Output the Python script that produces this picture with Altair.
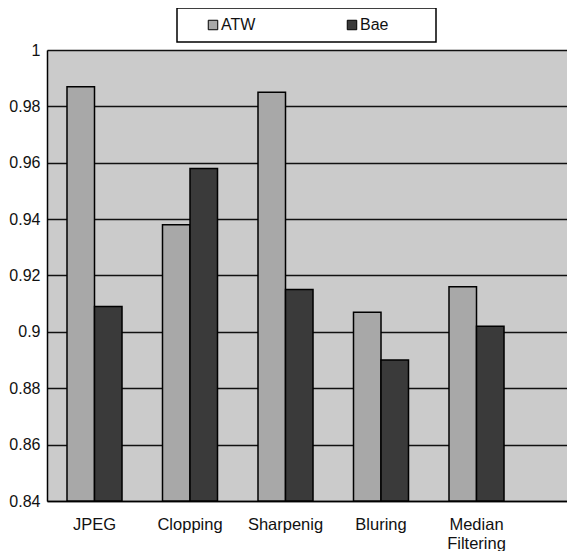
import altair as alt
import pandas as pd

categories = ["JPEG", "Clopping", "Sharpenig", "Bluring", "Median Filtering"]
series = ["ATW", "Bae"]
atw = [0.987, 0.938, 0.985, 0.907, 0.916]
bae = [0.909, 0.958, 0.915, 0.890, 0.902]
y_ticks = [0.84, 0.86, 0.88, 0.90, 0.92, 0.94, 0.96, 0.98, 1.0]

rows = []
for c, a, b in zip(categories, atw, bae):
    rows.append({"cat": c, "series": "ATW", "value": a})
    rows.append({"cat": c, "series": "Bae", "value": b})
df = pd.DataFrame(rows)

FONT = "Liberation Sans"

chart = alt.Chart(df).mark_bar(stroke="black", strokeWidth=1.5).encode(
    x=alt.X(
        "cat:N", sort=categories, title=None,
        scale=alt.Scale(paddingInner=0.424, paddingOuter=0.4345, align=0.241),
        axis=alt.Axis(
            labelAngle=0, labelFontSize=16.5, labelColor="#111", labelFont=FONT,
            ticks=False, domainColor="black", domainWidth=1.5, labelPadding=15,
            labelBaseline="top", labelLineHeight=19,
            labelExpr="datum.value == 'Median Filtering' ? ['Median', 'Filtering'] : datum.value",
        ),
    ),
    xOffset=alt.XOffset("series:N", sort=series, scale=alt.Scale(paddingInner=0, paddingOuter=0)),
    y=alt.Y(
        "value:Q", title=None,
        scale=alt.Scale(domain=[0.84, 1.0], zero=False, nice=False),
        axis=alt.Axis(
            values=y_ticks, format="~g", grid=True, gridColor="#111", gridWidth=1.4,
            ticks=False, domainColor="black", domainWidth=1.5, labelPadding=7,
            labelFontSize=16, labelFont=FONT, labelColor="#111",
        ),
    ),
    y2=alt.datum(0.84),
    color=alt.Color(
        "series:N", sort=series,
        scale=alt.Scale(domain=series, range=["#a8a8a8", "#3a3a3a"]),
        legend=alt.Legend(
            title=" ", titleOrient="right", titlePadding=39, titleFontSize=8,
            orient="none", legendX=130, legendY=-42,
            direction="horizontal", columns=2, symbolType="square",
            symbolSize=90, symbolStrokeColor="black", symbolStrokeWidth=1,
            symbolOffset=19, labelOffset=0,
            labelFontSize=16, labelFont=FONT, labelColor="#111",
            strokeColor="black", padding=9,
            fillColor="white",
        ),
    ),
).properties(
    width=520, height=451,
    autosize=alt.AutoSizeParams(type="none"),
    padding={"left": 39, "top": 42, "right": 0, "bottom": 50},
).configure_view(
    fill="#cbcbcb", stroke=None
).configure_legend(
    columnPadding=69, strokeWidth=1.5
)

chart.save("out.html", embed_options={"renderer": "svg", "actions": False})
